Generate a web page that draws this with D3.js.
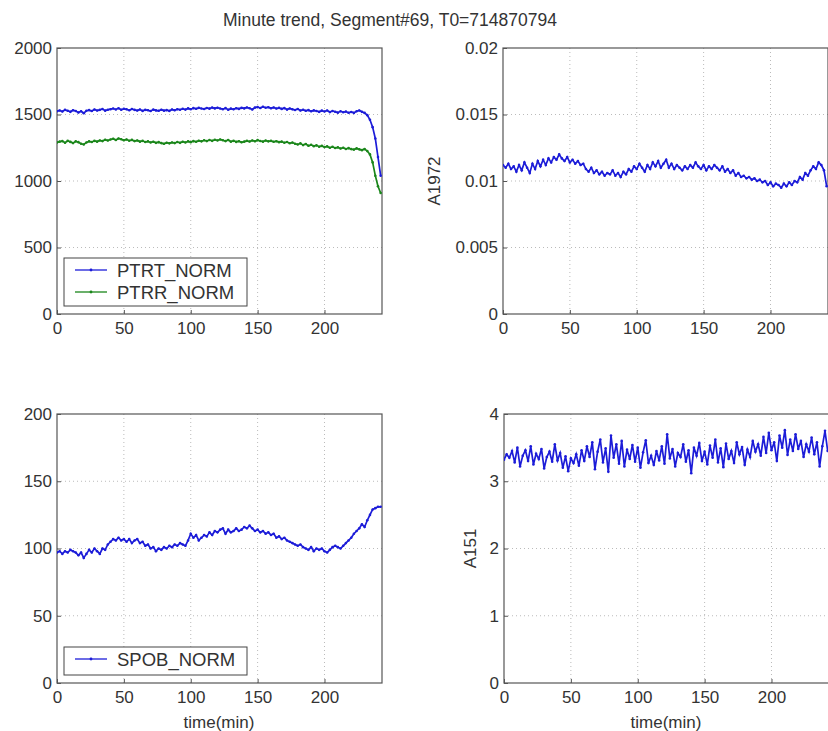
<!DOCTYPE html>
<html><head><meta charset="utf-8">
<script src="https://cdn.jsdelivr.net/npm/d3@7"></script>
<style>
html,body{margin:0;padding:0;background:#fff;}
svg{display:block;font-family:"Liberation Sans",Arial,sans-serif;}
</style></head>
<body><svg id="c" width="828" height="731"></svg>
<script>
// ---- data (2-minute samples, 0..242 min) ----
const titleText = "Minute trend, Segment#69, T0=714870794";
const xTicks = [0, 50, 100, 150, 200];
const xLabel = "time(min)";
const yTicksPT = [0, 500, 1000, 1500, 2000];
const yTicksA1972 = [0, 0.005, 0.01, 0.015, 0.02];
const yTicksSPOB = [0, 50, 100, 150, 200];
const yTicksA151 = [0, 1, 2, 3, 4];

const PTRT_NORM = [
1525,1530,1522,1535,1528,1520,1532,1526,1515,1524,
1510,1528,1533,1526,1538,1530,1535,1541,1529,1536,
1540,1545,1538,1547,1536,1543,1539,1532,1541,1535,
1530,1538,1527,1535,1532,1526,1537,1531,1528,1536,
1529,1533,1527,1538,1532,1540,1536,1543,1537,1546,
1540,1548,1543,1550,1545,1541,1549,1544,1552,1546,
1551,1545,1540,1548,1536,1544,1539,1547,1542,1550,
1546,1553,1547,1538,1552,1556,1549,1558,1551,1555,
1547,1553,1545,1550,1542,1548,1537,1545,1539,1534,
1541,1530,1536,1528,1533,1524,1531,1526,1520,1529,
1523,1530,1518,1526,1521,1514,1524,1517,1522,1513,
1519,1512,1525,1530,1520,1512,1495,1460,1405,1320,
1180,1040];
const PTRR_NORM = [
1290,1296,1300,1288,1302,1294,1285,1298,1292,1280,
1275,1290,1298,1293,1302,1296,1305,1300,1310,1304,
1312,1318,1308,1320,1314,1306,1312,1303,1309,1300,
1305,1296,1302,1293,1298,1290,1295,1287,1292,1285,
1280,1288,1283,1290,1285,1293,1287,1295,1290,1298,
1292,1300,1295,1303,1298,1306,1300,1308,1302,1310,
1305,1312,1306,1300,1308,1296,1302,1294,1299,1291,
1296,1302,1297,1305,1299,1307,1301,1296,1304,1298,
1302,1295,1299,1292,1296,1288,1293,1284,1289,1280,
1275,1283,1270,1278,1265,1272,1262,1268,1258,1264,
1255,1260,1250,1257,1248,1253,1244,1250,1241,1247,
1240,1236,1245,1238,1232,1240,1225,1200,1140,1040,
960,910];
const A1972 = [
.0112,.0110,.0113,.0109,.0111,.0107,.0112,.0108,.0114,.0110,
.0106,.0113,.0109,.0115,.0111,.0116,.0112,.0117,.0114,.0118,
.0116,.0120,.0117,.0115,.0118,.0114,.0116,.0113,.0115,.0112,
.0113,.0109,.0107,.0110,.0106,.0108,.0105,.0107,.0104,.0106,
.0105,.0108,.0104,.0106,.0103,.0107,.0105,.0109,.0107,.0111,
.0109,.0113,.0110,.0107,.0112,.0109,.0114,.0111,.0115,.0110,
.0113,.0116,.0110,.0113,.0109,.0112,.0110,.0108,.0111,.0109,
.0112,.0110,.0114,.0111,.0109,.0112,.0108,.0111,.0109,.0112,
.0110,.0108,.0111,.0107,.0109,.0106,.0108,.0104,.0106,.0103,
.0104,.0102,.0103,.0101,.0102,.0100,.0101,.0099,.0100,.0097,
.0099,.0096,.0098,.0097,.0095,.0098,.0096,.0099,.0097,.0100,
.0099,.0103,.0101,.0106,.0104,.0108,.0111,.0109,.0114,.0112,
.0108,.0096];
const SPOB_NORM = [
97,98,96,98,97,99,98,97,95,97,
93,96,99,97,100,98,96,100,99,103,
105,107,106,108,106,107,105,107,104,106,
107,104,105,102,103,100,101,98,100,99,
101,100,102,101,103,102,104,103,102,106,
111,108,110,106,108,110,109,112,110,113,
112,114,115,111,114,112,113,115,113,114,
116,115,117,115,113,114,112,113,111,112,
110,111,108,109,107,108,106,105,104,103,
102,103,101,100,99,101,98,100,99,100,
98,97,99,101,102,101,100,102,104,106,
108,111,113,115,118,116,121,125,129,130,
131,131];
const A151 = [
3.32,3.40,3.35,3.45,3.28,3.50,3.22,3.38,3.46,3.30,
3.52,3.25,3.41,3.33,3.48,3.19,3.36,3.44,3.29,3.55,
3.31,3.42,3.20,3.37,3.15,3.34,3.27,3.40,3.23,3.46,
3.30,3.52,3.36,3.58,3.18,3.44,3.62,3.28,3.49,3.14,
3.68,3.35,3.55,3.26,3.60,3.22,3.47,3.33,3.54,3.29,
3.50,3.20,3.43,3.61,3.27,3.38,3.24,3.45,3.31,3.52,
3.26,3.70,3.34,3.48,3.22,3.42,3.36,3.55,3.29,3.46,
3.12,3.50,3.38,3.57,3.30,3.44,3.25,3.53,3.35,3.62,
3.28,3.49,3.21,3.56,3.33,3.45,3.27,3.58,3.40,3.51,
3.24,3.47,3.36,3.60,3.44,3.55,3.38,3.66,3.42,3.72,
3.46,3.58,3.30,3.68,3.50,3.76,3.39,3.62,3.45,3.70,
3.48,3.60,3.36,3.55,3.44,3.65,3.40,3.58,3.22,3.52,
3.75,3.45];
const timeMin = d3.range(0, 243, 2);

// ---- drawing ----
const svg = d3.select("#c");
const FS = 17;
const BLUE = "#1c1cd8", GREEN = "#1a861a";

svg.append("text").attr("x", 390).attr("y", 26).attr("text-anchor", "middle")
  .attr("font-size", 17.5).attr("fill", "#333").text(titleText);

let clipId = 0;
function panel(o) {
  const x = d3.scaleLinear().domain([0, 243]).range([o.x0, o.x0 + 325]);
  const y = d3.scaleLinear().domain(o.yDomain).range([o.y1, o.y0]);
  const g = svg.append("g");
  // grid
  g.selectAll(".gx").data(xTicks.slice(1)).join("line")
    .attr("x1", d => x(d)).attr("x2", d => x(d)).attr("y1", o.y0).attr("y2", o.y1)
    .attr("stroke", "#bbb").attr("stroke-dasharray", "1,3");
  g.selectAll(".gy").data(o.yTicks.slice(1, -1)).join("line")
    .attr("x1", o.x0).attr("x2", o.x0 + 325).attr("y1", d => y(d)).attr("y2", d => y(d))
    .attr("stroke", "#bbb").attr("stroke-dasharray", "1,3");
  // axes
  const ax = d3.axisBottom(x).tickValues(xTicks).tickSize(-4).tickPadding(8).tickFormat(d3.format("d"));
  const ay = d3.axisLeft(y).tickValues(o.yTicks).tickSize(-4).tickPadding(5).tickFormat(d3.format("~g"));
  const gx = g.append("g").attr("transform", `translate(0,${o.y1})`).call(ax);
  const gy = g.append("g").attr("transform", `translate(${o.x0},0)`).call(ay);
  [gx, gy].forEach(a => {
    a.select(".domain").remove();
    a.selectAll("line").attr("stroke", "#555");
    a.selectAll("text").attr("font-size", FS).attr("fill", "#333").attr("font-family", null);
  });
  // box
  g.append("rect").attr("x", o.x0).attr("y", o.y0).attr("width", 325).attr("height", o.y1 - o.y0)
    .attr("fill", "none").attr("stroke", "#555").attr("stroke-width", 1.2);
  // clip
  const cid = "clip" + (clipId++);
  svg.append("clipPath").attr("id", cid).append("rect")
    .attr("x", o.x0).attr("y", o.y0 - 2).attr("width", 325).attr("height", o.y1 - o.y0 + 4);
  const line = d3.line().x((d, i) => x(timeMin[i])).y(d => y(d));
  const lg = g.append("g").attr("clip-path", `url(#${cid})`);
  o.series.forEach(s => {
    lg.append("path").datum(s.values).attr("d", line).attr("fill", "none")
      .attr("stroke", s.color).attr("stroke-width", 1.7);
    lg.selectAll(null).data(s.values).join("circle")
      .attr("cx", (d, i) => x(timeMin[i])).attr("cy", d => y(d)).attr("r", 1.3).attr("fill", s.color);
  });
  // legend
  if (o.legend) {
    const L = o.legend;
    g.append("rect").attr("x", L.x).attr("y", L.y).attr("width", 183).attr("height", L.h)
      .attr("fill", "#fff").attr("stroke", "#444").attr("stroke-width", 1);
    o.series.forEach((s, i) => {
      const cy = L.y + 12 + i * 22;
      g.append("line").attr("x1", L.x + 11).attr("x2", L.x + 43).attr("y1", cy).attr("y2", cy)
        .attr("stroke", s.color).attr("stroke-width", 1.3);
      g.append("circle").attr("cx", L.x + 27).attr("cy", cy).attr("r", 1.4).attr("fill", s.color);
      g.append("text").attr("x", L.x + 53).attr("y", cy + 6.5).attr("font-size", 18.5)
        .attr("fill", "#333").text(s.name);
    });
  }
  if (o.ylabel) {
    g.append("text").attr("transform", `translate(${o.ylabelX},${(o.y0 + o.y1) / 2}) rotate(-90)`)
      .attr("text-anchor", "middle").attr("font-size", FS).attr("fill", "#333").text(o.ylabel);
  }
  if (o.xlabel) {
    g.append("text").attr("x", o.x0 + 162).attr("y", o.y1 + 45).attr("text-anchor", "middle")
      .attr("font-size", FS).attr("fill", "#333").text(xLabel);
  }
}

panel({x0: 57, y0: 48, y1: 314, yDomain: [0, 2000], yTicks: yTicksPT,
  series: [{name: "PTRT_NORM", values: PTRT_NORM, color: BLUE},
           {name: "PTRR_NORM", values: PTRR_NORM, color: GREEN}],
  legend: {x: 64, y: 258, h: 48}});
panel({x0: 503, y0: 48, y1: 314, yDomain: [0, 0.02], yTicks: yTicksA1972,
  series: [{name: "A1972", values: A1972, color: BLUE}], ylabel: "A1972", ylabelX: 440});
panel({x0: 57, y0: 414, y1: 683, yDomain: [0, 200], yTicks: yTicksSPOB,
  series: [{name: "SPOB_NORM", values: SPOB_NORM, color: BLUE}],
  legend: {x: 64, y: 647, h: 28}, xlabel: true});
panel({x0: 504, y0: 414, y1: 683, yDomain: [0, 4], yTicks: yTicksA151,
  series: [{name: "A151", values: A151, color: BLUE}], ylabel: "A151", ylabelX: 476, xlabel: true});
</script></body></html>
